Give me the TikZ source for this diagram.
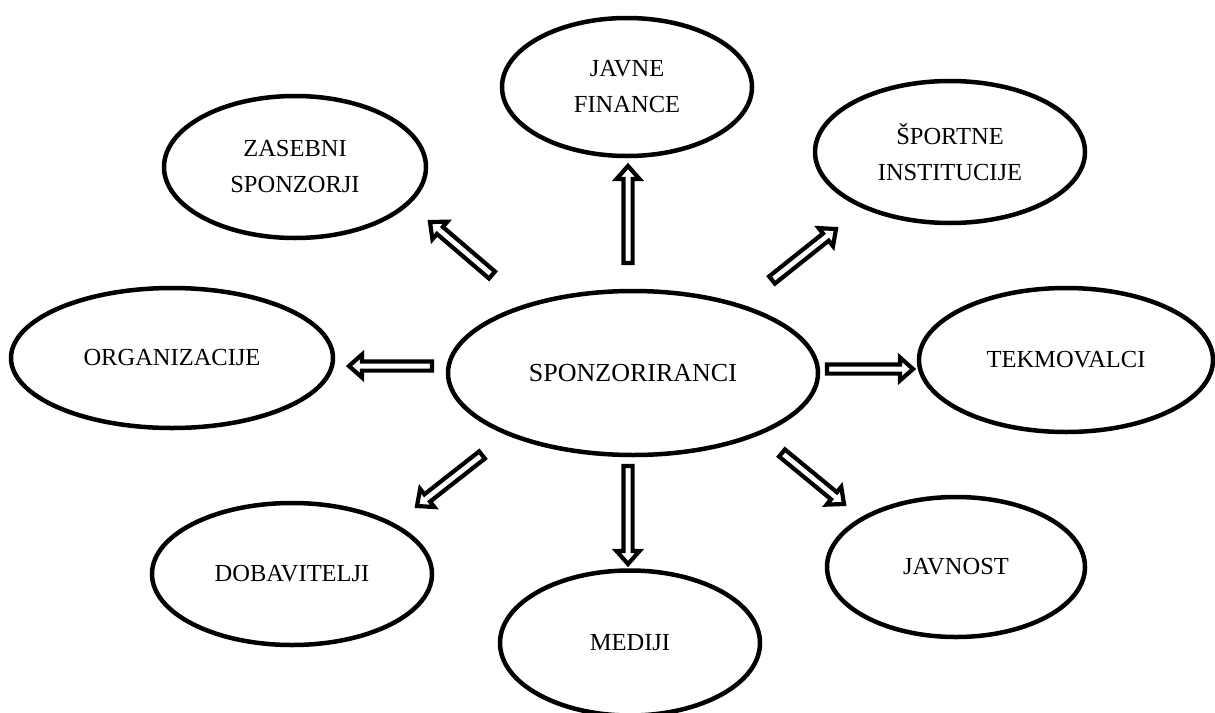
\documentclass[tikz,border=0pt]{standalone}
\usepackage{fontspec}
\setmainfont{Liberation Serif}
\usetikzlibrary{shapes.geometric,calc}
\tikzset{
  ell/.style={ellipse, draw, line width=4.5pt, inner sep=0pt, align=center,
    font=\fontsize{24.5}{36}\selectfont},
  blk/.style={draw, line width=4.2pt, fill=white, line join=miter}
}
\newcommand{\blockarr}[2]{%
  \coordinate (hb) at ($(#2)!13pt!(#1)$);
  \draw[blk] ($(#1)!4.6pt!90:(#2)$) -- ($(hb)!4.6pt!90:(#2)$) -- ($(hb)!11.5pt!90:(#2)$)
    -- (#2) -- ($(hb)!11.5pt!-90:(#2)$) -- ($(hb)!4.6pt!-90:(#2)$) -- ($(#1)!4.6pt!-90:(#2)$) -- cycle;}
\begin{document}
\begin{tikzpicture}[x=1pt,y=-1pt]
\useasboundingbox[fill=white] (0,0) rectangle (1215,712);
\node[ell, minimum width=370pt, minimum height=164pt, font=\fontsize{26}{36}\selectfont] (sp) at (633,373) {SPONZORIRANCI};
\node[ell, minimum width=250pt, minimum height=138pt] (jf) at (627,87) {JAVNE\\FINANCE};
\node[ell, minimum width=270pt, minimum height=142pt] (si) at (950,152) {ŠPORTNE\\INSTITUCIJE};
\node[ell, minimum width=262pt, minimum height=142pt] (zs) at (295,167) {ZASEBNI\\SPONZORJI};
\node[ell, minimum width=322pt, minimum height=140pt] (or) at (172,358) {ORGANIZACIJE};
\node[ell, minimum width=294pt, minimum height=144pt] (tk) at (1066,360) {TEKMOVALCI};
\node[ell, minimum width=280pt, minimum height=142pt] (db) at (292,574) {DOBAVITELJI};
\node[ell, minimum width=260pt, minimum height=145pt] (me) at (630,643) {MEDIJI};
\node[ell, minimum width=258pt, minimum height=140pt] (jv) at (956,567) {JAVNOST};
% arrow end points
\coordinate (nT) at (628,263); \coordinate (nH) at (628,166);
\coordinate (sT) at (628,466); \coordinate (sH) at (628,564);
\coordinate (wT) at (432,366); \coordinate (wH) at (349,366);
\coordinate (eT) at (827,369); \coordinate (eH) at (913,369);
\coordinate (nwT) at (492,275); \coordinate (nwH) at (430,222);
\coordinate (neT) at (772,280); \coordinate (neH) at (836,229);
\coordinate (swT) at (482,455); \coordinate (swH) at (417,506);
\coordinate (seT) at (782,453); \coordinate (seH) at (844,504);
\blockarr{nT}{nH}
\blockarr{sT}{sH}
\blockarr{wT}{wH}
\blockarr{eT}{eH}
\blockarr{nwT}{nwH}
\blockarr{neT}{neH}
\blockarr{swT}{swH}
\blockarr{seT}{seH}
\end{tikzpicture}
\end{document}
